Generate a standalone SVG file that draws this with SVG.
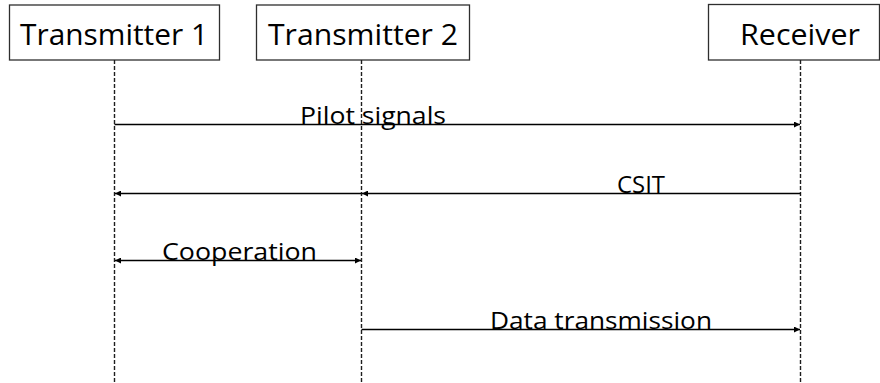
<svg xmlns="http://www.w3.org/2000/svg" width="880" height="383" viewBox="0 0 880 383">
  <style>
    .box { fill: #ffffff; stroke: #2e2e2e; stroke-width: 1.3; }
    .title { font-family: "Open Sans", "Liberation Sans", sans-serif; font-size: 29px; fill: #000000; }
    .life { stroke: #1e1e1e; stroke-width: 1.4; stroke-dasharray: 4 2; fill: none; }
    .msg { stroke: #000000; stroke-width: 1.5; fill: none; }
    .label { font-family: "Open Sans", "Liberation Sans", sans-serif; font-size: 24px; fill: #000000; }
  </style>
  <defs>
    <marker id="arrowEnd" viewBox="0 0 10 10" refX="10" refY="5" markerWidth="7" markerHeight="6" markerUnits="userSpaceOnUse" orient="auto">
      <path d="M0,0 L10,5 L0,10 Z" fill="#000000"/>
    </marker>
    <marker id="arrowStart" viewBox="0 0 10 10" refX="0" refY="5" markerWidth="7" markerHeight="6" markerUnits="userSpaceOnUse" orient="auto">
      <path d="M10,0 L0,5 L10,10 Z" fill="#000000"/>
    </marker>
  </defs>

  <rect width="880" height="383" fill="#ffffff"/>

  <g id="transmitter1">
    <rect class="box" x="9.5" y="5" width="210" height="55"/>
    <line class="life" x1="114.5" y1="60" x2="114.5" y2="383"/>
    <text class="title" x="20" y="45" textLength="188" lengthAdjust="spacingAndGlyphs">Transmitter 1</text>
  </g>

  <g id="transmitter2">
    <rect class="box" x="256.5" y="5" width="213" height="55"/>
    <line class="life" x1="361.5" y1="60" x2="361.5" y2="383"/>
    <text class="title" x="268" y="45" textLength="190" lengthAdjust="spacingAndGlyphs">Transmitter 2</text>
  </g>

  <g id="receiver">
    <rect class="box" x="708.5" y="4.5" width="171" height="55.5"/>
    <line class="life" x1="800.5" y1="60" x2="800.5" y2="383"/>
    <text class="title" x="740" y="45" textLength="120" lengthAdjust="spacingAndGlyphs">Receiver</text>
  </g>

  <g id="connectors">
    <line class="msg" x1="114.5" y1="124.5" x2="800" y2="124.5" marker-end="url(#arrowEnd)"/>
    <line class="msg" x1="800.5" y1="193.5" x2="362" y2="193.5" marker-end="url(#arrowEnd)"/>
    <line class="msg" x1="361.5" y1="193.5" x2="115" y2="193.5" marker-end="url(#arrowEnd)"/>
    <line class="msg" x1="115" y1="260.5" x2="361" y2="260.5" marker-start="url(#arrowStart)" marker-end="url(#arrowEnd)"/>
    <line class="msg" x1="361.5" y1="329.5" x2="800" y2="329.5" marker-end="url(#arrowEnd)"/>
  </g>

  <g id="labels">
    <text class="label" x="300" y="124" textLength="146" lengthAdjust="spacingAndGlyphs">Pilot signals</text>
    <text class="label" x="617" y="193" textLength="48" lengthAdjust="spacingAndGlyphs">CSIT</text>
    <text class="label" x="162" y="260" textLength="155" lengthAdjust="spacingAndGlyphs">Cooperation</text>
    <text class="label" x="490" y="329" textLength="222" lengthAdjust="spacingAndGlyphs">Data transmission</text>
  </g>
</svg>
